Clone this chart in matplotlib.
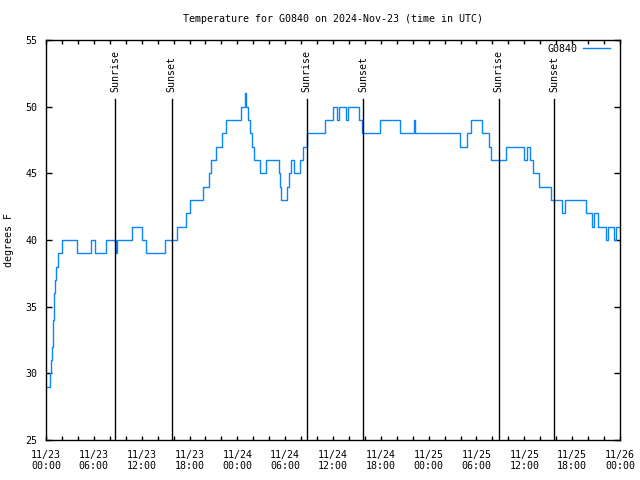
import matplotlib
matplotlib.use("Agg")
import matplotlib.pyplot as plt
from matplotlib.ticker import MultipleLocator
import matplotlib.transforms as mtransforms

# hours since 2024-11-23 00:00 UTC where the reading changes, and the reading (deg F)
hours = [0.0, 0.5, 0.65, 0.75, 0.85, 0.95, 1.05, 1.12, 1.22, 1.45, 2.0,
         3.9, 5.6, 6.1, 7.5, 8.72, 8.95, 10.85, 12.1, 12.6, 14.9,
         16.4, 17.6, 18.1, 19.65, 20.45, 20.7, 21.35, 22.05, 22.6,
         24.5, 24.95, 25.1, 25.3, 25.55, 25.85, 26.05, 26.85, 27.6,
         29.2, 29.35, 29.5, 30.25, 30.45, 30.7, 31.15, 31.9, 32.2, 32.75,
         35.05, 36.05, 36.55, 36.75, 37.6, 37.85, 39.3, 39.6, 41.9,
         44.45, 46.1, 46.3, 51.9, 52.75, 53.3, 54.7, 55.6, 55.8, 57.7,
         59.95, 60.3, 60.75, 61.1, 61.9, 63.3, 64.75, 65.1, 67.75,
         68.45, 68.7, 69.25, 70.25, 70.5, 71.25, 71.5, 72.0]
temps = [29, 30, 31, 32, 34, 35, 36, 37, 38, 39, 40,
         39, 40, 39, 40, 39, 40, 41, 40, 39, 40,
         41, 42, 43, 44, 45, 46, 47, 48, 49,
         50, 51, 50, 49, 48, 47, 46, 45, 46,
         45, 44, 43, 44, 45, 46, 45, 46, 47, 48,
         49, 50, 49, 50, 49, 50, 49, 48, 49,
         48, 49, 48, 47, 48, 49, 48, 47, 46, 47,
         46, 47, 46, 45, 44, 43, 42, 43, 42,
         41, 42, 41, 40, 41, 40, 41, 41]

sunrise = [8.68, 32.70, 56.80]
sunset = [15.78, 39.76, 63.72]

xtick_labels = ["11/23\n00:00", "11/23\n06:00", "11/23\n12:00", "11/23\n18:00",
                "11/24\n00:00", "11/24\n06:00", "11/24\n12:00", "11/24\n18:00",
                "11/25\n00:00", "11/25\n06:00", "11/25\n12:00", "11/25\n18:00",
                "11/26\n00:00"]

fs = 7.2
plt.rcParams["font.family"] = "DejaVu Sans Mono"
plt.rcParams["font.size"] = fs

fig = plt.figure(figsize=(6.4, 4.8), dpi=100)
ax = fig.add_axes([46 / 640, 40 / 480, 574 / 640, 400 / 480])

ax.plot(hours, temps, drawstyle="steps-post", color="#0a84ff", lw=1, label="G0840")

trans = mtransforms.blended_transform_factory(ax.transData, ax.transAxes)
for t in sunrise:
    ax.axvline(t, ymin=0, ymax=0.8525, color="black", lw=1)
    ax.text(t, 0.87, "Sunrise", rotation=90, transform=trans, ha="center", va="bottom")
for t in sunset:
    ax.axvline(t, ymin=0, ymax=0.8525, color="black", lw=1)
    ax.text(t, 0.87, "Sunset", rotation=90, transform=trans, ha="center", va="bottom")

ax.set_xlim(0, 72)
ax.set_ylim(25, 55)
ax.set_xticks(range(0, 73, 6))
ax.set_xticklabels(xtick_labels)
ax.xaxis.set_minor_locator(MultipleLocator(2))
ax.yaxis.set_major_locator(MultipleLocator(5))
ax.tick_params(which="both", direction="in", top=True, right=True, width=1)
ax.tick_params(axis="x", which="major", length=3, pad=7)
ax.tick_params(axis="x", which="minor", length=3)
ax.tick_params(axis="y", which="major", length=4, pad=6)
for s in ax.spines.values():
    s.set_linewidth(1)

ax.set_ylabel("degrees F")
ax.yaxis.set_label_coords(-0.055, 0.5)

ax.legend(loc="upper right", bbox_to_anchor=(0.9826, 0.99), frameon=False,
          markerfirst=False, handlelength=2.7, borderaxespad=0, borderpad=0,
          handletextpad=0.6)

fig.text(333 / 640, 1 - 19 / 480, "Temperature for G0840 on 2024-Nov-23 (time in UTC)",
         ha="center", va="center")

fig.savefig("out.png", dpi=100)
